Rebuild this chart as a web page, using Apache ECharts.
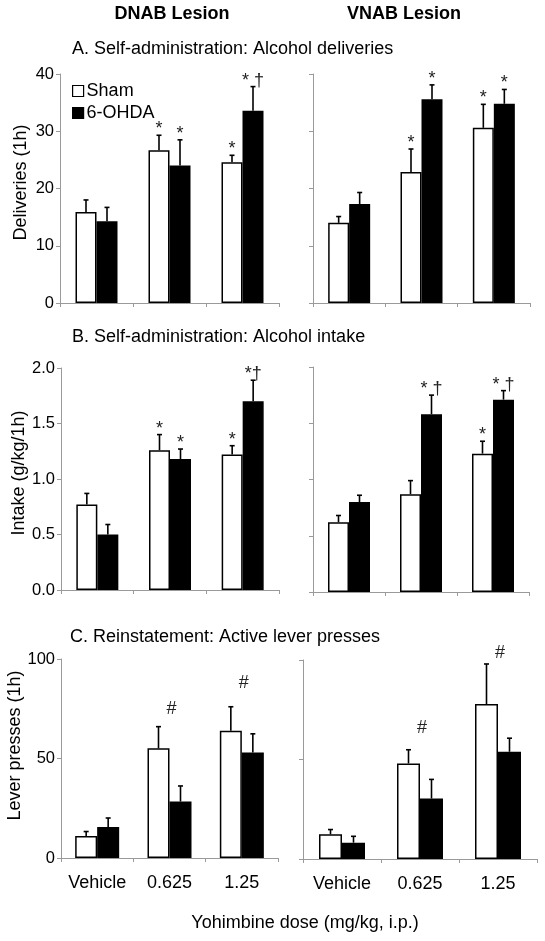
<!DOCTYPE html>
<html>
<head>
<meta charset="utf-8">
<script src="https://cdn.jsdelivr.net/npm/echarts@6/dist/echarts.min.js"></script>
<style>
html,body{margin:0;padding:0;background:#fff;}
#chart{width:545px;height:941px;}
</style>
</head>
<body>
<div id="chart"></div>
<script>
// ---------- DATA ----------
const categories = ['Vehicle', '0.625', '1.25'];
const seriesNames = ['Sham', '6-OHDA'];

// A. Alcohol deliveries (1h)
const delivDNAB_sham = [15.9, 26.7, 24.6];
const delivDNAB_shamErr = [2.1, 2.6, 1.2];
const delivDNAB_ohda = [14.3, 24.0, 33.6];
const delivDNAB_ohdaErr = [2.4, 4.5, 4.2];
const delivVNAB_sham = [14.0, 22.9, 30.6];
const delivVNAB_shamErr = [1.1, 4.0, 4.1];
const delivVNAB_ohda = [17.3, 35.6, 34.8];
const delivVNAB_ohdaErr = [2.0, 2.5, 2.5];

// B. Alcohol intake (g/kg/1h)
const intakeDNAB_sham = [0.77, 1.26, 1.22];
const intakeDNAB_shamErr = [0.10, 0.14, 0.08];
const intakeDNAB_ohda = [0.50, 1.18, 1.70];
const intakeDNAB_ohdaErr = [0.09, 0.09, 0.19];
const intakeVNAB_sham = [0.62, 0.87, 1.23];
const intakeVNAB_shamErr = [0.06, 0.12, 0.11];
const intakeVNAB_ohda = [0.80, 1.58, 1.71];
const intakeVNAB_ohdaErr = [0.06, 0.17, 0.08];

// C. Active lever presses (1h)
const leverDNAB_sham = [11.1, 55.1, 63.9];
const leverDNAB_shamErr = [2.2, 10.9, 12.1];
const leverDNAB_ohda = [15.6, 28.4, 53.0];
const leverDNAB_ohdaErr = [4.5, 7.8, 9.4];
const leverVNAB_sham = [12.4, 48.0, 77.9];
const leverVNAB_shamErr = [2.4, 6.9, 20.1];
const leverVNAB_ohda = [8.2, 30.4, 53.9];
const leverVNAB_ohdaErr = [3.2, 9.6, 6.8];

// significance marks
const marksA_DNAB_sham = ['', '*', '*'];
const marksA_DNAB_ohda = ['', '*', '* \u2020'];
const marksA_VNAB_sham = ['', '*', '*'];
const marksA_VNAB_ohda = ['', '*', '*'];
const marksB_DNAB_sham = ['', '*', '*'];
const marksB_DNAB_ohda = ['', '*', '*\u2020'];
const marksB_VNAB_sham = ['', '', '*'];
const marksB_VNAB_ohda = ['', '* \u2020', '* \u2020'];
const hashC_DNAB = ['', '#', '#'];
const hashLevelC_DNAB = [null, 75, 88];
const hashC_VNAB = ['', '#', '#'];
const hashLevelC_VNAB = [null, 66, 103.5];

// axis ticks
const ticksA = {min: 0, max: 40, interval: 10};
const ticksB = {min: 0, max: 2, interval: 0.5};
const ticksC = {min: 0, max: 100, interval: 50};

// ---------- CHART ----------
const FONT = 'Arial, "Liberation Sans", Helvetica, sans-serif';
const AXIS_GRAY = '#9a9a9a';
const TXT = 18;

const grids = [
  {left: 60, top: 74, width: 219, height: 229},
  {left: 313, top: 74, width: 217, height: 229},
  {left: 61, top: 368, width: 218, height: 222},
  {left: 313, top: 367, width: 216, height: 225},
  {left: 61, top: 659, width: 217, height: 199},
  {left: 303, top: 660, width: 234, height: 199}
];

const panels = [
  {g: 0, t: ticksA, name: 'Deliveries (1h)', gap: 30, npad: 12, labels: true, xl: false, bw: 21,
   s: delivDNAB_sham, se: delivDNAB_shamErr, o: delivDNAB_ohda, oe: delivDNAB_ohdaErr, sm: marksA_DNAB_sham, om: marksA_DNAB_ohda},
  {g: 1, t: ticksA, name: '', labels: false, xl: false, bw: 21,
   s: delivVNAB_sham, se: delivVNAB_shamErr, o: delivVNAB_ohda, oe: delivVNAB_ohdaErr, sm: marksA_VNAB_sham, om: marksA_VNAB_ohda},
  {g: 2, t: ticksB, name: 'Intake (g/kg/1h)', gap: 33, npad: 12, labels: true, xl: false, bw: 21, fmt: v => v.toFixed(1),
   s: intakeDNAB_sham, se: intakeDNAB_shamErr, o: intakeDNAB_ohda, oe: intakeDNAB_ohdaErr, sm: marksB_DNAB_sham, om: marksB_DNAB_ohda},
  {g: 3, t: ticksB, name: '', labels: false, xl: false, bw: 21, fmt: v => v.toFixed(1),
   s: intakeVNAB_sham, se: intakeVNAB_shamErr, o: intakeVNAB_ohda, oe: intakeVNAB_ohdaErr, sm: marksB_VNAB_sham, om: marksB_VNAB_ohda},
  {g: 4, t: ticksC, name: 'Lever presses (1h)', gap: 35, npad: 26, labels: true, xl: true, bw: 22,
   s: leverDNAB_sham, se: leverDNAB_shamErr, o: leverDNAB_ohda, oe: leverDNAB_ohdaErr, sm: null, om: null,
   hash: hashC_DNAB, hashLv: hashLevelC_DNAB},
  {g: 5, t: ticksC, name: '', labels: false, xl: true, bw: 23,
   s: leverVNAB_sham, se: leverVNAB_shamErr, o: leverVNAB_ohda, oe: leverVNAB_ohdaErr, sm: null, om: null,
   hash: hashC_VNAB, hashLv: hashLevelC_VNAB}
];

const xAxes = [], yAxes = [], series = [];

panels.forEach(p => {
  xAxes.push({
    type: 'category', gridIndex: p.g, data: categories, boundaryGap: true,
    axisLine: {show: true, lineStyle: {color: AXIS_GRAY, width: 1}},
    axisTick: {show: true, length: 4, lineStyle: {color: AXIS_GRAY}},
    axisLabel: {show: p.xl, interval: 0, hideOverlap: false, fontSize: TXT, fontFamily: FONT, color: '#000', margin: 16},
    splitLine: {show: false}
  });
  yAxes.push({
    type: 'value', gridIndex: p.g, min: p.t.min, max: p.t.max, interval: p.t.interval,
    name: p.name, nameLocation: 'middle', nameGap: p.gap || 30, nameRotate: 90,
    nameTextStyle: {fontSize: TXT, fontFamily: FONT, color: '#000', padding: [0, 0, 0, p.npad || 0]},
    axisLine: {show: true, lineStyle: {color: AXIS_GRAY, width: 1}},
    axisTick: {show: true, length: 4, lineStyle: {color: AXIS_GRAY}},
    axisLabel: {show: p.labels, fontSize: 16.5, fontFamily: FONT, color: '#000', margin: 6,
      formatter: p.fmt ? p.fmt : (v => String(v))},
    splitLine: {show: false}
  });
  const idx = p.g;
  series.push({
    name: 'Sham', type: 'bar', xAxisIndex: idx, yAxisIndex: idx, data: p.s,
    barWidth: p.bw, barGap: '0%',
    itemStyle: {color: '#ffffff', borderColor: '#000', borderWidth: 1.5}, z: 2
  });
  series.push({
    name: '6-OHDA', type: 'bar', xAxisIndex: idx, yAxisIndex: idx, data: p.o,
    barWidth: p.bw, barGap: '0%',
    itemStyle: {color: '#000000', borderColor: '#000', borderWidth: 1.5}, z: 2
  });
  [[p.s, p.se, p.sm, -1], [p.o, p.oe, p.om, 1]].forEach(([m, e, marks, side]) => {
    series.push({
      name: 'err', type: 'custom', xAxisIndex: idx, yAxisIndex: idx, z: 5, clip: false,
      encode: {x: 0, y: [1, 2]},
      data: m.map((v, i) => [i, v, v + e[i]]),
      renderItem: (params, api) => {
        const i = api.value(0);
        const base = api.coord([i, api.value(1)]);
        const top = api.coord([i, api.value(2)]);
        const x = base[0] + side * p.bw / 2;
        const children = [
          {type: 'line', shape: {x1: x, y1: base[1], x2: x, y2: top[1]}, style: {stroke: '#000', lineWidth: 1.6}},
          {type: 'line', shape: {x1: x - 2.5, y1: top[1], x2: x + 2.5, y2: top[1]}, style: {stroke: '#000', lineWidth: 1.6}}
        ];
        const mk = marks ? marks[params.dataIndex] : '';
        if (mk) {
          children.push({type: 'text', style: {text: mk, x: x, y: top[1] + 3, align: 'center', verticalAlign: 'bottom',
            fontSize: TXT, fontFamily: FONT, fill: '#222'}});
        }
        return {type: 'group', children};
      }
    });
  });
  if (p.hash) {
    series.push({
      name: 'hash', type: 'custom', xAxisIndex: idx, yAxisIndex: idx, z: 5, clip: false,
      encode: {x: 0, y: 1},
      data: p.hashLv.map((v, i) => [i, v == null ? 0 : v]),
      renderItem: (params, api) => {
        const mk = p.hash[params.dataIndex];
        if (!mk) return null;
        const pt = api.coord([api.value(0), api.value(1)]);
        return {type: 'text', style: {text: mk, x: pt[0] + 2, y: pt[1], align: 'center', verticalAlign: 'middle',
          fontSize: TXT, fontFamily: FONT, fill: '#222'}};
      }
    });
  }
});

const titleStyle = {fontSize: TXT, fontWeight: 'normal', fontFamily: FONT, color: '#000'};
const option = {
  animation: false,
  backgroundColor: '#ffffff',
  grid: grids,
  xAxis: xAxes,
  yAxis: yAxes,
  series: series,
  legend: {
    data: [
      {name: 'Sham', itemStyle: {color: '#fff', borderColor: '#000', borderWidth: 1.2}},
      {name: '6-OHDA', itemStyle: {color: '#000', borderColor: '#000', borderWidth: 1.2}}
    ],
    orient: 'vertical', left: 72, top: 82, padding: 0,
    itemWidth: 11, itemHeight: 11, itemGap: 4, icon: 'rect',
    textStyle: {fontSize: TXT, fontFamily: FONT, color: '#000', padding: [0, 0, 0, -2]},
    selectedMode: false
  },
  title: [
    {text: 'DNAB Lesion', left: 172, top: 5, textAlign: 'center', padding: 0,
     textStyle: {fontSize: 18, fontWeight: 'bold', fontFamily: FONT, color: '#000'}},
    {text: 'VNAB Lesion', left: 404, top: 5, textAlign: 'center', padding: 0,
     textStyle: {fontSize: 18, fontWeight: 'bold', fontFamily: FONT, color: '#000'}},
    {text: 'A. Self-administration: Alcohol deliveries', left: 72, top: 40, padding: 0, textStyle: titleStyle},
    {text: 'B. Self-administration: Alcohol intake', left: 72, top: 328, padding: 0, textStyle: titleStyle},
    {text: 'C. Reinstatement: Active lever presses', left: 70, top: 628, padding: 0, textStyle: titleStyle},
    {text: 'Yohimbine dose (mg/kg, i.p.)', left: 305, top: 914, textAlign: 'center', padding: 0, textStyle: titleStyle}
  ]
};

const chart = echarts.init(document.getElementById('chart'), null, {renderer: 'canvas'});
chart.setOption(option);
</script>
</body>
</html>
